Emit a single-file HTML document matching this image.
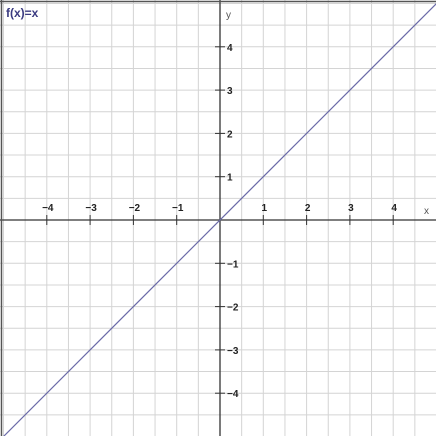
<!DOCTYPE html>
<html><head><style>
body{margin:0;background:#fff;}
svg{display:block;}
text{font-family:"Liberation Sans",sans-serif;font-weight:bold;font-size:10px;fill:#222;}
</style></head><body>
<svg id="c" width="440" height="436" xmlns="http://www.w3.org/2000/svg">
<rect x="0" y="0" width="440" height="436" fill="#fff"/>
<g id="grid"></g>
<g id="axes"></g>
<g id="series"></g>
<rect x="436" y="0" width="4" height="436" fill="#fff"/>
<line x1="0" y1="1.5" x2="436" y2="1.5" stroke="#555" stroke-width="1.5"/>
<line x1="1.5" y1="0" x2="1.5" y2="436" stroke="#555" stroke-width="1.5"/>
<text x="6" y="17" style="fill:#3a3a80;font-size:12px">f(x)=x</text>
<text x="424" y="214" style="font-weight:normal;fill:#555">x</text>
<text x="226" y="18" style="font-weight:normal;fill:#555">y</text>
</svg>
<script>
const xTicks=[-4,-3,-2,-1,1,2,3,4];
const yTicks=[-4,-3,-2,-1,1,2,3,4];
const lineXs=[-5.1,5.1];
const slope=[1];
const ox=220,oy=220,unit=43.3;
const X=v=>ox+v*unit, Y=v=>oy-v*unit;
const NS="http://www.w3.org/2000/svg";
function mk(t,a,p){const e=document.createElementNS(NS,t);for(const k in a)e.setAttribute(k,a[k]);p.appendChild(e);return e;}
const grid=document.getElementById('grid'),axes=document.getElementById('axes'),series=document.getElementById('series');
for(let k=-10;k<=10;k++){
 const gx=X(k/2);
 const l=mk('line',{x1:gx,y1:0,x2:gx,y2:436,stroke:'#d4d4d4','stroke-width':1},grid);
 
 
 const gy=Y(k/2);
 const h=mk('line',{x1:0,y1:gy,x2:440,y2:gy,stroke:'#d4d4d4','stroke-width':1},grid);
 
 
}
const xa=mk('line',{x1:0,y1:oy,x2:440,y2:oy,stroke:'#333','stroke-width':1.3},axes);


const ya=mk('line',{x1:ox,y1:0,x2:ox,y2:436,stroke:'#333','stroke-width':1.3},axes);


xTicks.forEach(v=>{
 const t=mk('line',{x1:X(v),y1:oy-5,x2:X(v),y2:oy+5,stroke:'#333'},axes);
 
 
 const s=mk('text',{x:X(v)+1,y:oy-9,'text-anchor':'middle'},axes);
 s.textContent=v<0?'\u2212'+(-v):v;
 
 
});
yTicks.forEach(v=>{
 const t=mk('line',{x1:ox-5,y1:Y(v),x2:ox+5,y2:Y(v),stroke:'#333'},axes);
 
 
 const s=mk('text',{x:ox+7,y:Y(v)+4},axes);
 s.textContent=v<0?'\u2212'+(-v):v;
 
 
});
const pl=mk('line',{x1:X(lineXs[0]),y1:Y(slope[0]*lineXs[0]),x2:X(lineXs[1]),y2:Y(slope[0]*lineXs[1]),stroke:'#6a6aa8','stroke-width':1.2},series);


</script>
</body></html>
